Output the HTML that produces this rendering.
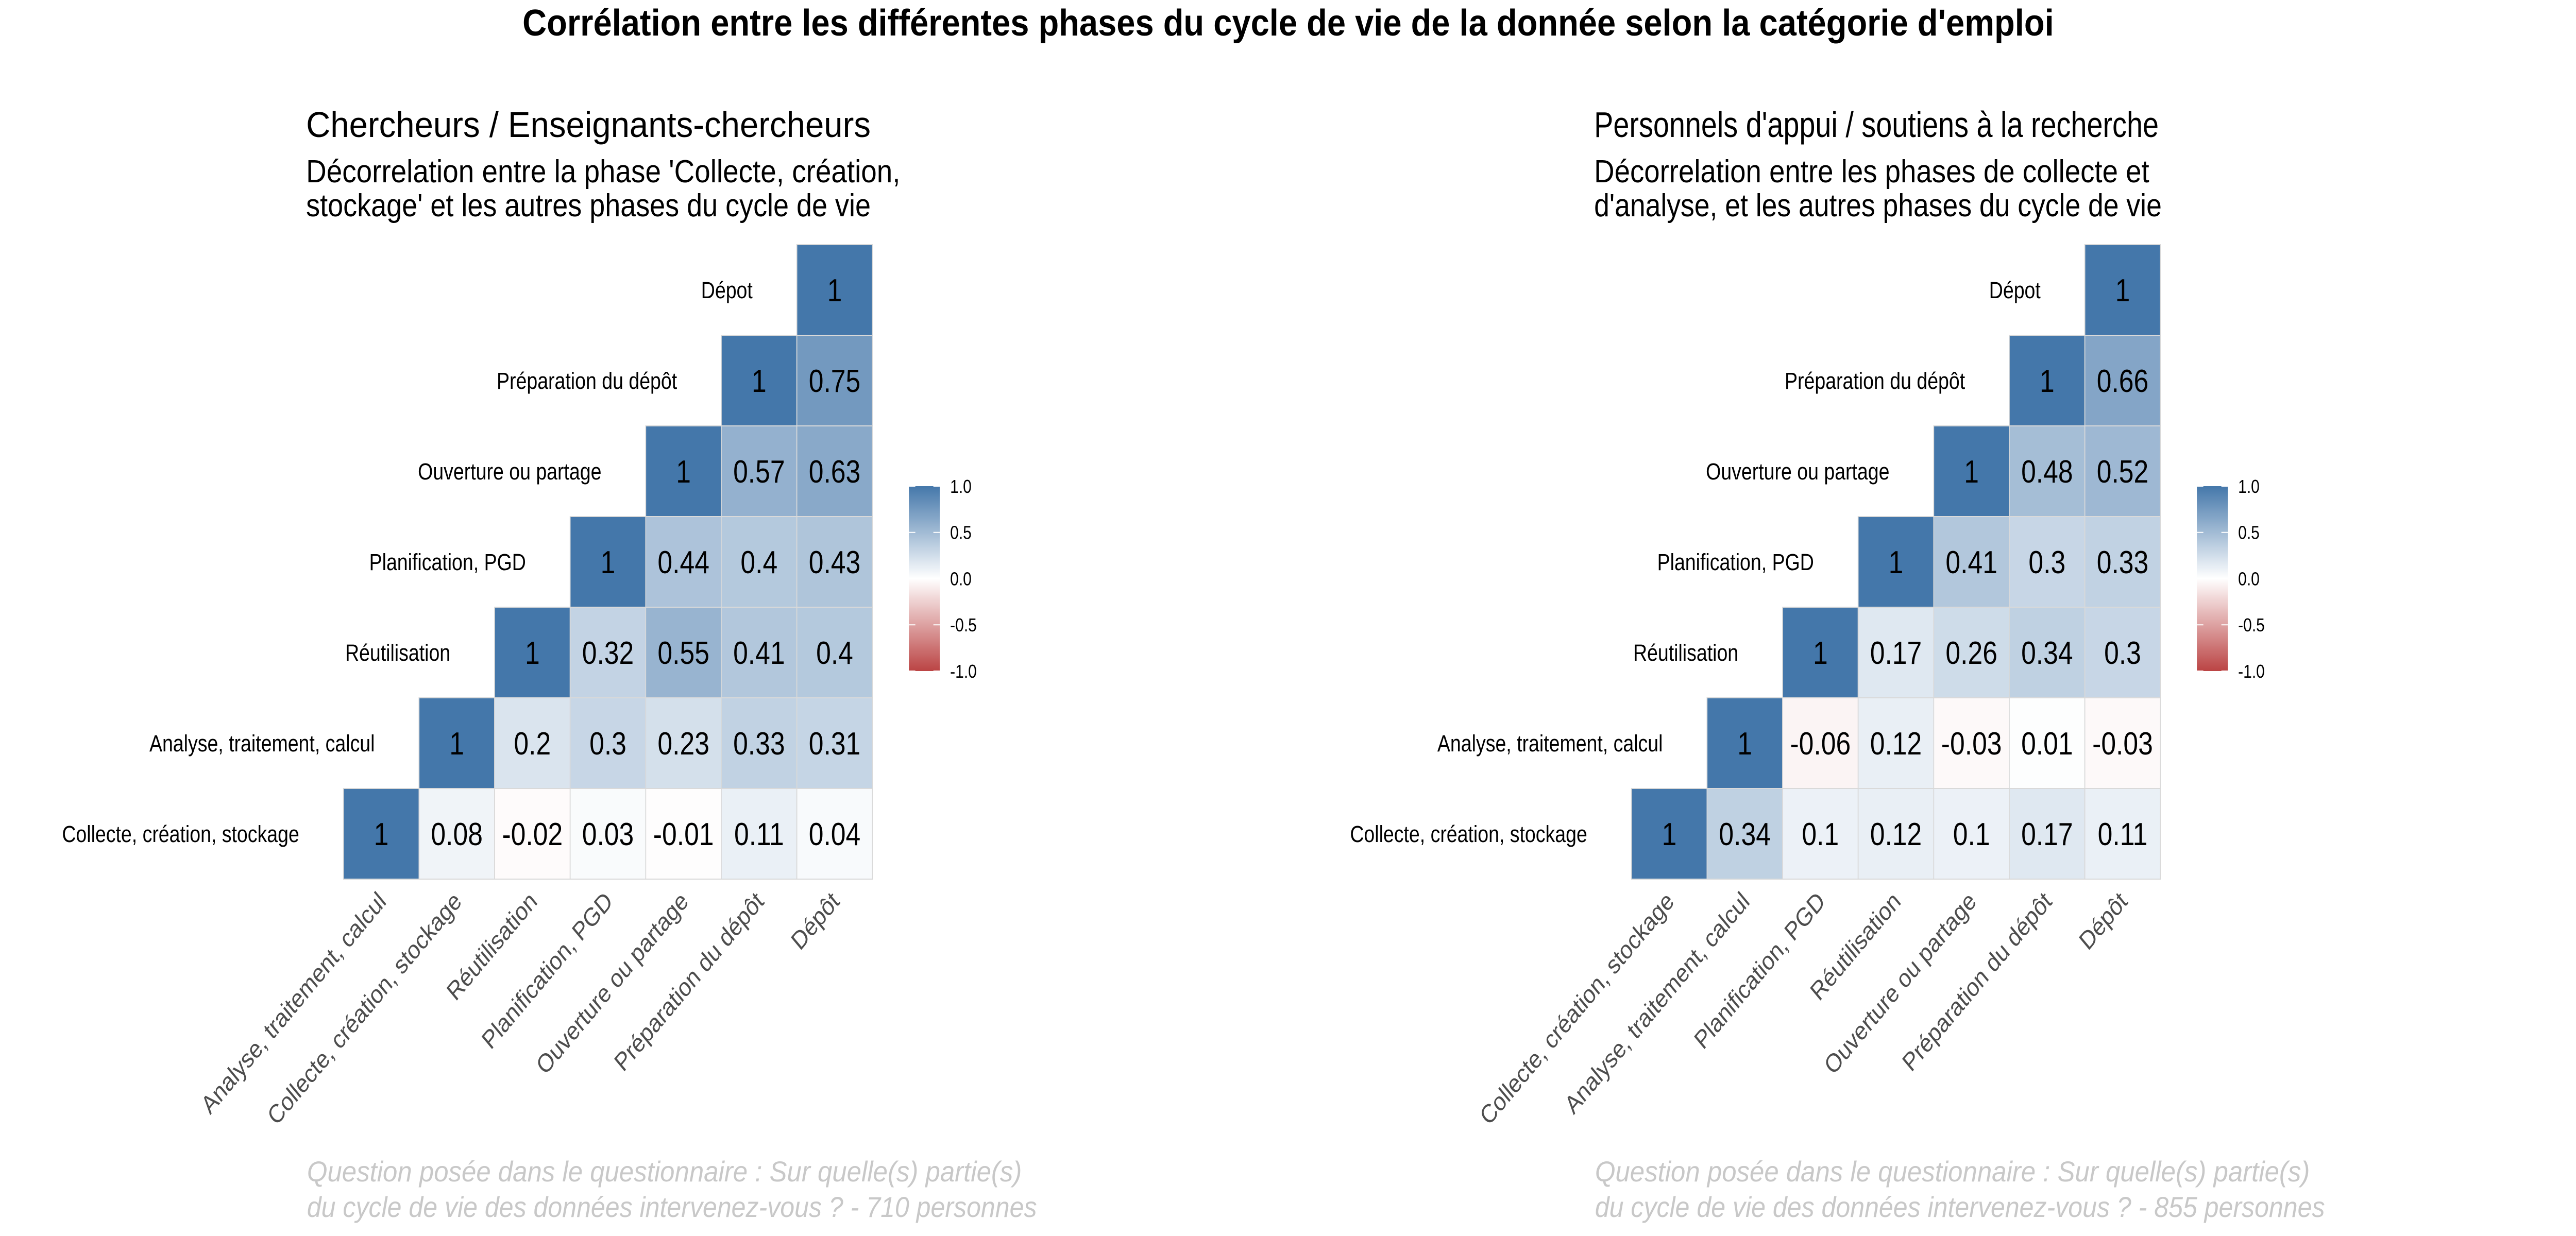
<!DOCTYPE html>
<html><head><meta charset="utf-8"><style>
html,body{margin:0;padding:0;background:#fff;width:100%;height:100%;overflow:hidden;}
svg{display:block;position:fixed;left:0;top:0;width:100vw;height:100vh;}
</style></head><body>
<svg id="chart" xmlns="http://www.w3.org/2000/svg" viewBox="0 0 6000 2400" preserveAspectRatio="none">
<defs>
<linearGradient id="legGrad" x1="0" y1="0" x2="0" y2="1">
<stop offset="0" stop-color="#4477AA"/><stop offset="0.5" stop-color="#FFFFFF"/><stop offset="1" stop-color="#BB4444"/>
</linearGradient>
</defs>
<rect width="6000" height="2400" fill="#fff"/>
<text x="1217" y="69" font-family="'Liberation Sans', sans-serif" font-weight="bold" font-size="72" textLength="3567" lengthAdjust="spacingAndGlyphs" fill="#000">Corrélation entre les différentes phases du cycle de vie de la donnée selon la catégorie d'emploi</text>
<g id="p0"></g>
<g id="p1"></g>
</svg>
<script>
const rowLabelsLeft = ["Collecte, création, stockage","Analyse, traitement, calcul","Réutilisation","Planification, PGD","Ouverture ou partage","Préparation du dépôt","Dépot"];
const colLabelsLeft = ["Analyse, traitement, calcul","Collecte, création, stockage","Réutilisation","Planification, PGD","Ouverture ou partage","Préparation du dépôt","Dépôt"];
const valuesLeft = [
 [1,0.08,-0.02,0.03,-0.01,0.11,0.04],
 [null,1,0.2,0.3,0.23,0.33,0.31],
 [null,null,1,0.32,0.55,0.41,0.4],
 [null,null,null,1,0.44,0.4,0.43],
 [null,null,null,null,1,0.57,0.63],
 [null,null,null,null,null,1,0.75],
 [null,null,null,null,null,null,1]
];
const rowLabelsRight = ["Collecte, création, stockage","Analyse, traitement, calcul","Réutilisation","Planification, PGD","Ouverture ou partage","Préparation du dépôt","Dépot"];
const colLabelsRight = ["Collecte, création, stockage","Analyse, traitement, calcul","Planification, PGD","Réutilisation","Ouverture ou partage","Préparation du dépôt","Dépôt"];
const valuesRight = [
 [1,0.34,0.1,0.12,0.1,0.17,0.11],
 [null,1,-0.06,0.12,-0.03,0.01,-0.03],
 [null,null,1,0.17,0.26,0.34,0.3],
 [null,null,null,1,0.41,0.3,0.33],
 [null,null,null,null,1,0.48,0.52],
 [null,null,null,null,null,1,0.66],
 [null,null,null,null,null,null,1]
];
const legendTicks = [1.0,0.5,0.0,-0.5,-1.0];
const legendTickLabels = ["1.0","0.5","0.0","-0.5","-1.0"];

const NS="http://www.w3.org/2000/svg";
function mk(tag, attrs, parent){const e=document.createElementNS(NS,tag);for(const k in attrs)e.setAttribute(k,attrs[k]);parent.appendChild(e);return e;}
function colorFor(v){
  const lo=[187,68,68], mid=[255,255,255], hi=[68,119,170];
  const t=Math.abs(v), c=v>=0?hi:lo;
  const r=mid.map((m,i)=>Math.round(m+(c[i]-m)*t));
  return `rgb(${r[0]},${r[1]},${r[2]})`;
}
function drawPanel(g, ox, rows, cols, vals, title, sub1, sub2, cap2, s1end, s2end){
  const gx=800+ox, gbot=1707, cell=176;
  const xs=i=>gx+i*cell, ys=j=>gbot-(j+1)*cell;
  const F="'Liberation Sans', sans-serif";
  let t;
  t=mk('text',{x:713+ox,y:266,'font-family':F,'font-size':70,textLength:1315,lengthAdjust:'spacingAndGlyphs',fill:'#000'},g);t.textContent=title;
  
  
  t=mk('text',{x:713+ox,y:354,'font-family':F,'font-size':62,textLength:s1end-713,lengthAdjust:'spacingAndGlyphs',fill:'#000'},g);t.textContent=sub1;
  
  
  t=mk('text',{x:713+ox,y:420,'font-family':F,'font-size':62,textLength:s2end-713,lengthAdjust:'spacingAndGlyphs',fill:'#000'},g);t.textContent=sub2;
  
  
  for(let j=0;j<vals.length;j++){
    for(let i=0;i<vals[j].length;i++){
      const v=vals[j][i]; if(v===null) continue;
      const r=mk('rect',{x:xs(i),y:ys(j),width:cell,height:cell,fill:colorFor(v),stroke:'#d9d9d9','stroke-width':2},g);
      
      
      t=mk('text',{x:xs(i)+cell/2,y:ys(j)+cell/2+22,'text-anchor':'middle','font-family':F,'font-size':62,fill:'#000'},g);
      t.textContent=String(v);
      
      
    }
    t=mk('text',{x:xs(j)-103,y:ys(j)+cell/2+16,'text-anchor':'end','font-family':F,'font-size':45,fill:'#000'},g);
    t.textContent=rows[j];
    
    
  }
  cols.forEach((c,i)=>{
    const ax=xs(i)+cell/2+14, ay=gbot+46;
    t=mk('text',{x:ax,y:ay,'text-anchor':'end','font-family':F,'font-size':50,fill:'#4d4d4d',transform:`rotate(-45 ${ax} ${ay})`},g);
    t.textContent=c;
    
    
  });
  const lx=2117+ox, ltop=944, lbot=1303;
  const lr=mk('rect',{x:lx,y:ltop,width:72,height:lbot-ltop,fill:'url(#legGrad)'},g);
  
  
  const ly=v=>ltop+(1-v)/2*(lbot-ltop);
  legendTicks.forEach((v,k)=>{
    const y=ly(v);
    mk('line',{x1:lx,x2:lx+15,y1:y,y2:y,stroke:'#fff','stroke-width':2},g);
    mk('line',{x1:lx+57,x2:lx+72,y1:y,y2:y,stroke:'#fff','stroke-width':2},g);
    t=mk('text',{x:lx+96,y:y+13,'font-family':F,'font-size':36,fill:'#000'},g);
    t.textContent=legendTickLabels[k];
    
    
  });
  t=mk('text',{x:715+ox,y:2294,'font-family':F,'font-style':'italic','font-size':56,textLength:1665,lengthAdjust:'spacingAndGlyphs',fill:'#c8c8c8'},g);
  t.textContent="Question posée dans le questionnaire : Sur quelle(s) partie(s)";
  
  
  t=mk('text',{x:715+ox,y:2363,'font-family':F,'font-style':'italic','font-size':56,textLength:1700,lengthAdjust:'spacingAndGlyphs',fill:'#c8c8c8'},g);
  t.textContent=cap2;
  
  
}
const p0=document.getElementById('p0');


const p1=document.getElementById('p1');


drawPanel(p0,0,rowLabelsLeft,colLabelsLeft,valuesLeft,"Chercheurs / Enseignants-chercheurs","Décorrelation entre la phase 'Collecte, création,","stockage' et les autres phases du cycle de vie","du cycle de vie des données intervenez-vous ? - 710 personnes",2097,2028);
drawPanel(p1,3000,rowLabelsRight,colLabelsRight,valuesRight,"Personnels d'appui / soutiens à la recherche","Décorrelation entre les phases de collecte et","d'analyse, et les autres phases du cycle de vie","du cycle de vie des données intervenez-vous ? - 855 personnes",2006,2035);
</script>
</body></html>
